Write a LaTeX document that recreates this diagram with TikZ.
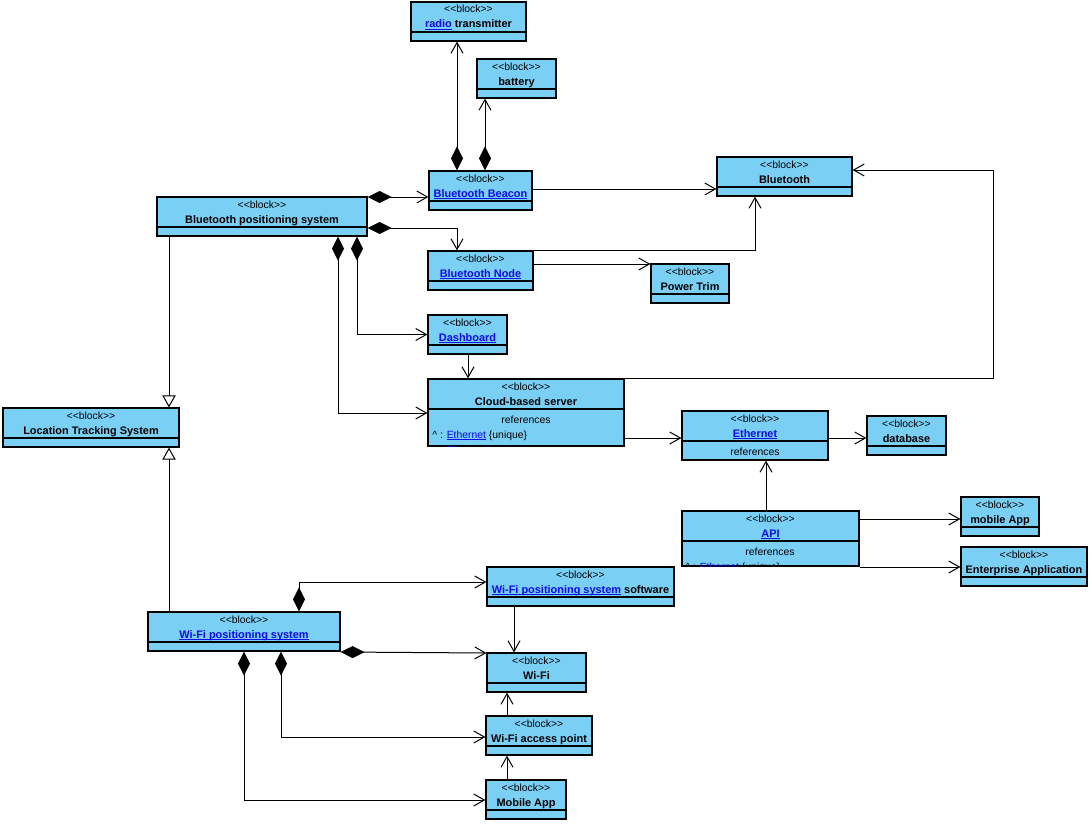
\documentclass[tikz,border=0pt]{standalone}
\usepackage{fontspec}
\setmainfont{Liberation Sans}
\usetikzlibrary{fit,arrows.meta}
\definecolor{blockblue}{RGB}{122,207,245}
\definecolor{linkblue}{RGB}{10,10,235}
\newcommand\lnk[1]{\textcolor{linkblue}{\setbox0=\hbox{#1}\rlap{\raisebox{-1.4pt}{\rule{\wd0}{0.55pt}}}\box0}}
\newcommand\mkblock[6]{%
  \node[box, fit={(#2,#3) (#4,#5)}] (#1) {};
  \draw[line width=0.9pt] (#2,#3+30) -- (#4,#3+30);
  \node[st, anchor=base] at ({(#2+#4)/2},#3+11) {<{}<block>{}>};
  \node[ttl, anchor=base] at ({(#2+#4)/2},#3+26) {#6};
}
\tikzset{
  box/.style={draw, line width=0.9pt, fill=blockblue, inner sep=0pt},
  st/.style={font=\fontsize{7.8}{9}\selectfont, inner sep=0pt},
  ttl/.style={font=\fontsize{8.2}{10}\selectfont\bfseries, inner sep=0pt},
  cmp/.style={font=\fontsize{7.8}{9}\selectfont, inner sep=0pt},
  conn/.style={line width=0.75pt, -{Straight Barb[length=8pt,width=9pt]}},
  comp/.style={line width=0.75pt, {Diamond[length=18pt,width=9pt]}-{Straight Barb[length=8pt,width=9pt]}},
  gen/.style={line width=0.75pt, -{Triangle[open,length=9pt,width=10pt]}},
}
\begin{document}
\begin{tikzpicture}[x=0.75pt,y=-0.75pt]
\useasboundingbox[fill=white] (0,0) rectangle (1092,824);
% blocks
\mkblock{radio}{411}{2}{526}{41}{\lnk{radio} transmitter}
\mkblock{battery}{477}{59}{556}{98}{battery}
\mkblock{beacon}{429}{171}{532}{210}{\lnk{Bluetooth Beacon}}
\mkblock{bt}{717}{157}{852}{196}{Bluetooth}
\mkblock{bps}{157}{197}{367}{236}{Bluetooth positioning system}
\mkblock{node}{428}{251}{533}{290}{\lnk{Bluetooth Node}}
\mkblock{power}{651}{264}{729}{303}{Power Trim}
\mkblock{dash}{428}{315}{507}{354}{\lnk{Dashboard}}
\mkblock{cloud}{428}{379}{624}{446}{Cloud-based server}
\node[cmp, anchor=base] at (526,423) {references};
\node[cmp, anchor=base west] at (432,438) {\textasciicircum{} : \lnk{Ethernet} \{unique\}};
\begin{scope}
  \clip (428,379) rectangle (624,446);
  \node[cmp, anchor=base west] at (432,453) {\textasciicircum{} : \lnk{Bluetooth} \{unique\}};
\end{scope}
\mkblock{eth}{682}{411}{828}{460}{\lnk{Ethernet}}
\node[cmp, anchor=base] at (755,455) {references};
\mkblock{db}{867}{416}{946}{455}{database}
\mkblock{lts}{3}{408}{179}{447}{Location Tracking System}
\mkblock{api}{682}{511}{859}{566}{\lnk{API}}
\node[cmp, anchor=base] at (770,555) {references};
\begin{scope}
  \clip (682,511) rectangle (859,566);
  \node[cmp, anchor=base west] at (685,570) {\textasciicircum{} : \lnk{Ethernet} \{unique\}};
\end{scope}
\mkblock{mobapp}{961}{497}{1039}{536}{mobile App}
\mkblock{ent}{961}{547}{1087}{586}{Enterprise Application}
\mkblock{sw}{487}{567}{674}{606}{\lnk{Wi-Fi positioning system} software}
\mkblock{wps}{148}{612}{340}{651}{\lnk{Wi-Fi positioning system}}
\mkblock{wifi}{487}{653}{586}{692}{Wi-Fi}
\mkblock{ap}{486}{716}{592}{755}{Wi-Fi access point}
\mkblock{mob}{486}{780}{566}{819}{Mobile App}
% connectors
\draw[comp] (457,0 |- beacon.north) -- (457,0 |- radio.south);
\draw[comp] (485,0 |- beacon.north) -- (485,0 |- battery.south);
\draw[comp] (0,197 -| bps.east) -- (0,197 -| beacon.west);
\draw[comp] (0,228 -| bps.east) -- (457,228) -- (457,0 |- node.north);
\draw[comp] (357,0 |- bps.south) |- (dash.west);
\draw[comp] (338,0 |- bps.south) |- (0,413 -| cloud.west);
\draw[conn] (0,189 -| beacon.east) -- (0,189 -| bt.west);
\draw[conn] (node.north east) -| (755,0 |- bt.south);
\draw[conn] (0,264 -| node.east) -- (0,264 -| power.west);
\draw[conn] (468,0 |- dash.south) -- (468,0 |- cloud.north);
\draw[conn] (cloud.north east) -| (993,170) -- (0,170 -| bt.east);
\draw[conn] (0,438 -| cloud.east) -- (0,438 -| eth.west);
\draw[conn] (0,438 -| eth.east) -- (0,438 -| db.west);
\draw[conn] (766,0 |- api.north) -- (766,0 |- eth.south);
\draw[conn] (0,519 -| api.east) -- (0,519 -| mobapp.west);
\draw[conn] (0,567 -| api.east) -- (0,567 -| ent.west);
\draw[gen] (169,0 |- bps.south) -- (169,0 |- lts.north);
\draw[gen] (169,0 |- wps.north) -- (169,0 |- lts.south);
\draw[comp] (299,0 |- wps.north) |- (0,582 -| sw.west);
\draw[comp] (0,652 -| wps.east) -- (0,653 -| wifi.west);
\draw[conn] (514,0 |- sw.south) -- (514,0 |- wifi.north);
\draw[comp] (281,0 |- wps.south) |- (0,737 -| ap.west);
\draw[comp] (244,0 |- wps.south) |- (0,800 -| mob.west);
\draw[conn] (507,0 |- ap.north) -- (507,0 |- wifi.south);
\draw[conn] (507,0 |- mob.north) -- (507,0 |- ap.south);
\end{tikzpicture}
\end{document}
